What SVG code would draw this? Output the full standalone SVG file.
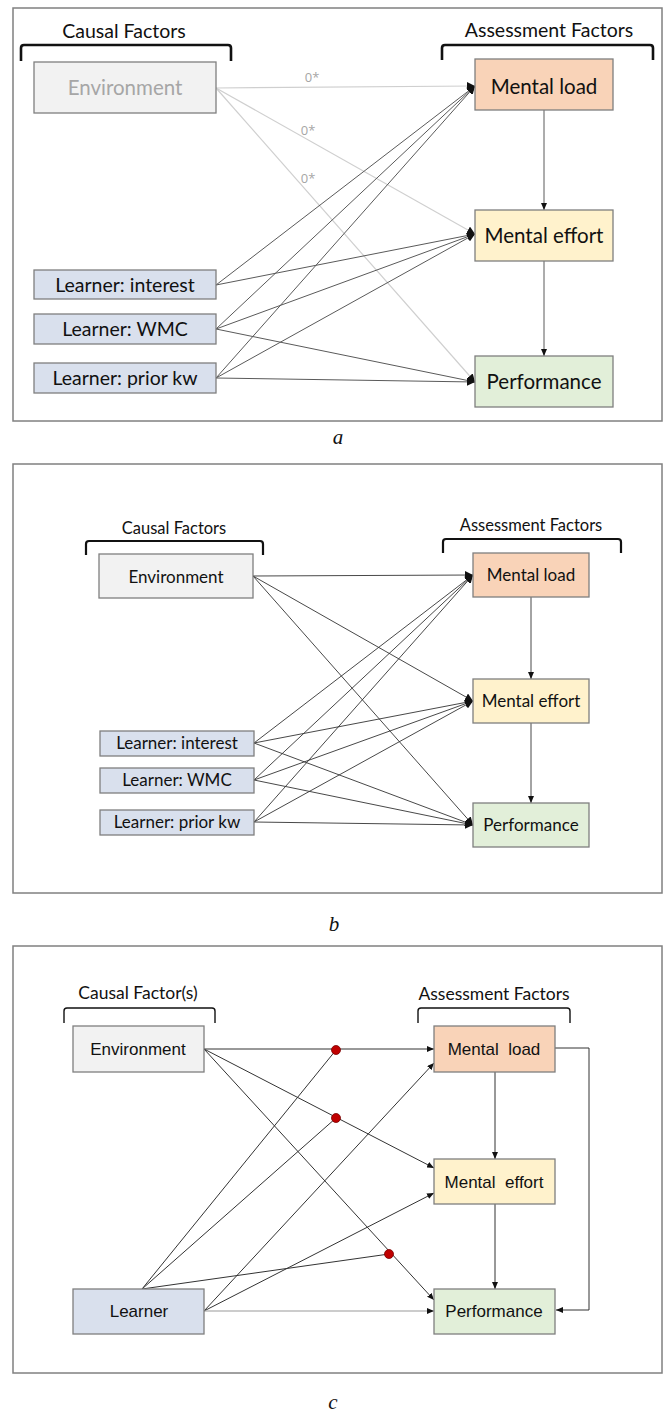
<svg xmlns="http://www.w3.org/2000/svg" width="667" height="1413" viewBox="0 0 667 1413">
<defs>
<marker id="ah" markerUnits="userSpaceOnUse" markerWidth="9" markerHeight="8" refX="8" refY="4" orient="auto"><path d="M0,0 L8,4 L0,8 z" fill="#111"/></marker>
<marker id="ahs" markerUnits="userSpaceOnUse" markerWidth="7" markerHeight="6" refX="7" refY="3" orient="auto"><path d="M0,0 L7,3 L0,6 z" fill="#111"/></marker>
<style>
.frame{fill:#fff;stroke:#808080;stroke-width:1.5}
.br{fill:none;stroke:#111;stroke-linejoin:round}
.box{stroke:#7f7f7f;stroke-width:1.3}
.env{fill:#f2f2f2}
.ml{fill:#f9d3b8}
.me{fill:#fff2cc}
.pf{fill:#e2efd9}
.lr{fill:#d9e0ed}
.cal{font-family:Lato,"Open Sans",sans-serif;fill:#111;text-anchor:middle}
.ari{font-family:"Liberation Sans",Arial,sans-serif;fill:#111;text-anchor:middle}
.cap{font-family:"Liberation Serif","Times New Roman",serif;font-style:italic;font-size:21px;fill:#111;text-anchor:middle}
.la{stroke:#5a5a5a;stroke-width:1;fill:none}
.lg{stroke:#cfcfcf;stroke-width:1.2;fill:none}
.lb{stroke:#333;stroke-width:0.9;fill:none}
.lc{stroke:#333;stroke-width:1;fill:none}
.dot{fill:#c00000;stroke:#7a0000;stroke-width:0.8}
</style>
</defs>
<rect width="667" height="1413" fill="#fff"/>

<!-- Panel a -->
<g id="panel-a">
<rect class="frame" x="13" y="8" width="649" height="413"/>
<g id="a-causal-label"><text class="cal" x="124" y="38" font-size="19.5">Causal Factors</text>
<path class="br" stroke-width="2.6" d="M21,61 V48 Q21,45 24,45 H228 Q231,45 231,48 V61"/></g>
<g id="a-assess-label"><text class="cal" x="549" y="37" font-size="19.5">Assessment Factors</text>
<path class="br" stroke-width="2.6" d="M442,60 V48 Q442,45 445,45 H650 Q653,45 653,48 V60"/></g>
<g id="a-connectors">
<line class="lg" x1="216" y1="88" x2="475" y2="86" marker-end="url(#ah)"/>
<line class="lg" x1="216" y1="88" x2="475" y2="234" marker-end="url(#ah)"/>
<line class="lg" x1="216" y1="88" x2="475" y2="382" marker-end="url(#ah)"/>
<line class="la" x1="216" y1="285" x2="475" y2="86" marker-end="url(#ah)"/>
<line class="la" x1="216" y1="285" x2="475" y2="234" marker-end="url(#ah)"/>
<line class="la" x1="216" y1="329" x2="475" y2="86" marker-end="url(#ah)"/>
<line class="la" x1="216" y1="329" x2="475" y2="234" marker-end="url(#ah)"/>
<line class="la" x1="216" y1="329" x2="475" y2="382" marker-end="url(#ah)"/>
<line class="la" x1="216" y1="378" x2="475" y2="86" marker-end="url(#ah)"/>
<line class="la" x1="216" y1="378" x2="475" y2="234" marker-end="url(#ah)"/>
<line class="la" x1="216" y1="378" x2="475" y2="382" marker-end="url(#ah)"/>
<line class="la" x1="544" y1="110" x2="544" y2="210" marker-end="url(#ahs)"/>
<line class="la" x1="544" y1="261" x2="544" y2="356" marker-end="url(#ahs)"/>
<g font-family="'Open Sans',Lato,sans-serif" font-size="13" fill="#a6a6a6" text-anchor="middle">
<text x="312" y="82">0*</text><text x="308" y="135">0*</text><text x="308" y="183">0*</text></g>
</g>
<g id="a-env"><rect class="box env" x="34" y="62" width="182" height="51" stroke="#c8c8c8"/><text class="cal" x="125" y="95" font-size="20.5" style="fill:#a6a6a6">Environment</text></g>
<g id="a-ml"><rect class="box ml" x="475" y="59" width="138" height="51"/><text class="cal" x="544" y="94" font-size="20.5">Mental load</text></g>
<g id="a-me"><rect class="box me" x="475" y="210" width="138" height="51"/><text class="cal" x="544" y="243" font-size="20.5">Mental effort</text></g>
<g id="a-pf"><rect class="box pf" x="475" y="356" width="138" height="51"/><text class="cal" x="544" y="389" font-size="20.5">Performance</text></g>
<g id="a-li"><rect class="box lr" x="34" y="270" width="182" height="29"/><text class="cal" x="125" y="292" font-size="19.5">Learner: interest</text></g>
<g id="a-lw"><rect class="box lr" x="34" y="314" width="182" height="30"/><text class="cal" x="125" y="336" font-size="19.5">Learner: WMC</text></g>
<g id="a-lp"><rect class="box lr" x="34" y="363" width="182" height="30"/><text class="cal" x="125" y="385" font-size="19.5">Learner: prior kw</text></g>
<text class="cap" x="338" y="444">a</text>
</g>

<!-- Panel b -->
<g id="panel-b">
<rect class="frame" x="13" y="464" width="649" height="429"/>
<g id="b-causal-label"><text class="cal" x="174" y="534" font-size="16.5">Causal Factors</text>
<path class="br" stroke-width="2.2" d="M86,555 V544 Q86,541 89,541 H260 Q263,541 263,544 V555"/></g>
<g id="b-assess-label"><text class="cal" x="531" y="531" font-size="16.5">Assessment Factors</text>
<path class="br" stroke-width="2.2" d="M443,553 V542 Q443,539 446,539 H618 Q621,539 621,542 V553"/></g>
<g id="b-connectors">
<line class="lb" x1="253" y1="576" x2="473" y2="575" marker-end="url(#ah)"/>
<line class="lb" x1="253" y1="576" x2="473" y2="701" marker-end="url(#ah)"/>
<line class="lb" x1="253" y1="576" x2="473" y2="825" marker-end="url(#ah)"/>
<line class="lb" x1="254" y1="743" x2="473" y2="575" marker-end="url(#ah)"/>
<line class="lb" x1="254" y1="743" x2="473" y2="701" marker-end="url(#ah)"/>
<line class="lb" x1="254" y1="743" x2="473" y2="825" marker-end="url(#ah)"/>
<line class="lb" x1="254" y1="780" x2="473" y2="575" marker-end="url(#ah)"/>
<line class="lb" x1="254" y1="780" x2="473" y2="701" marker-end="url(#ah)"/>
<line class="lb" x1="254" y1="780" x2="473" y2="825" marker-end="url(#ah)"/>
<line class="lb" x1="254" y1="822" x2="473" y2="575" marker-end="url(#ah)"/>
<line class="lb" x1="254" y1="822" x2="473" y2="701" marker-end="url(#ah)"/>
<line class="lb" x1="254" y1="822" x2="473" y2="825" marker-end="url(#ah)"/>
<line class="lb" x1="531" y1="597" x2="531" y2="679" marker-end="url(#ahs)"/>
<line class="lb" x1="531" y1="723" x2="531" y2="803" marker-end="url(#ahs)"/>
</g>
<g id="b-env"><rect class="box env" x="99" y="554" width="154" height="44"/><text class="cal" x="176" y="583" font-size="17">Environment</text></g>
<g id="b-ml"><rect class="box ml" x="473" y="553" width="116" height="44"/><text class="cal" x="531" y="581" font-size="17">Mental load</text></g>
<g id="b-me"><rect class="box me" x="473" y="679" width="116" height="44"/><text class="cal" x="531" y="707" font-size="17">Mental effort</text></g>
<g id="b-pf"><rect class="box pf" x="473" y="803" width="116" height="44"/><text class="cal" x="531" y="831" font-size="17">Performance</text></g>
<g id="b-li"><rect class="box lr" x="100" y="731" width="154" height="25"/><text class="cal" x="177" y="749" font-size="17">Learner: interest</text></g>
<g id="b-lw"><rect class="box lr" x="100" y="768" width="154" height="25"/><text class="cal" x="177" y="786" font-size="17">Learner: WMC</text></g>
<g id="b-lp"><rect class="box lr" x="100" y="810" width="154" height="25"/><text class="cal" x="177" y="828" font-size="17">Learner: prior kw</text></g>
<text class="cap" x="334" y="931">b</text>
</g>

<!-- Panel c -->
<g id="panel-c">
<rect class="frame" x="13" y="946" width="649" height="427"/>
<g id="c-causal-label"><text class="cal" x="138" y="999" font-size="17.5">Causal Factor(s)</text>
<path class="br" stroke-width="1.4" d="M64,1023 V1011 Q64,1008 67,1008 H212 Q215,1008 215,1011 V1023"/></g>
<g id="c-assess-label"><text class="cal" x="494" y="1000" font-size="17.5">Assessment Factors</text>
<path class="br" stroke-width="1.4" d="M418,1023 V1011 Q418,1008 421,1008 H567 Q570,1008 570,1011 V1023"/></g>
<g id="c-connectors">
<line class="lc" x1="204" y1="1049" x2="434" y2="1049" marker-end="url(#ahs)"/>
<line class="lc" x1="204" y1="1049" x2="434" y2="1168" marker-end="url(#ahs)"/>
<line class="lc" x1="204" y1="1049" x2="434" y2="1300" marker-end="url(#ahs)"/>
<line class="lc" x1="142" y1="1289" x2="336" y2="1050"/>
<line class="lc" x1="142" y1="1289" x2="336" y2="1118"/>
<line class="lc" x1="142" y1="1289" x2="389" y2="1254"/>
<line class="lc" x1="204" y1="1311" x2="434" y2="1063" marker-end="url(#ahs)"/>
<line class="lc" x1="204" y1="1311" x2="434" y2="1193" marker-end="url(#ahs)"/>
<line x1="204" y1="1311" x2="434" y2="1311" stroke="#999" stroke-width="1.2" marker-end="url(#ahs)"/>
<line class="lc" x1="495" y1="1072" x2="495" y2="1159" marker-end="url(#ahs)"/>
<line class="lc" x1="495" y1="1204" x2="495" y2="1289" marker-end="url(#ahs)"/>
<polyline class="lc" points="555,1048 589,1048 589,1310 556,1310" marker-end="url(#ahs)"/>
<circle class="dot" cx="336" cy="1050" r="4.5"/>
<circle class="dot" cx="336" cy="1118" r="4.5"/>
<circle class="dot" cx="389" cy="1254" r="4.5"/>
</g>
<g id="c-env"><rect class="box env" x="73" y="1026" width="131" height="46" stroke="#666"/><text class="ari" x="138" y="1055" font-size="17">Environment</text></g>
<g id="c-ml"><rect class="box ml" x="434" y="1026" width="121" height="46" stroke="#666"/><text class="ari" x="494" y="1055" font-size="17" xml:space="preserve">Mental  load</text></g>
<g id="c-me"><rect class="box me" x="434" y="1159" width="121" height="45" stroke="#666"/><text class="ari" x="494" y="1188" font-size="17" xml:space="preserve">Mental  effort</text></g>
<g id="c-pf"><rect class="box pf" x="434" y="1289" width="121" height="45" stroke="#666"/><text class="ari" x="494" y="1317" font-size="17">Performance</text></g>
<g id="c-lr"><rect class="box lr" x="73" y="1289" width="131" height="45" stroke="#666"/><text class="ari" x="139" y="1317" font-size="17">Learner</text></g>
<text class="cap" x="333" y="1409">c</text>
</g>
</svg>
